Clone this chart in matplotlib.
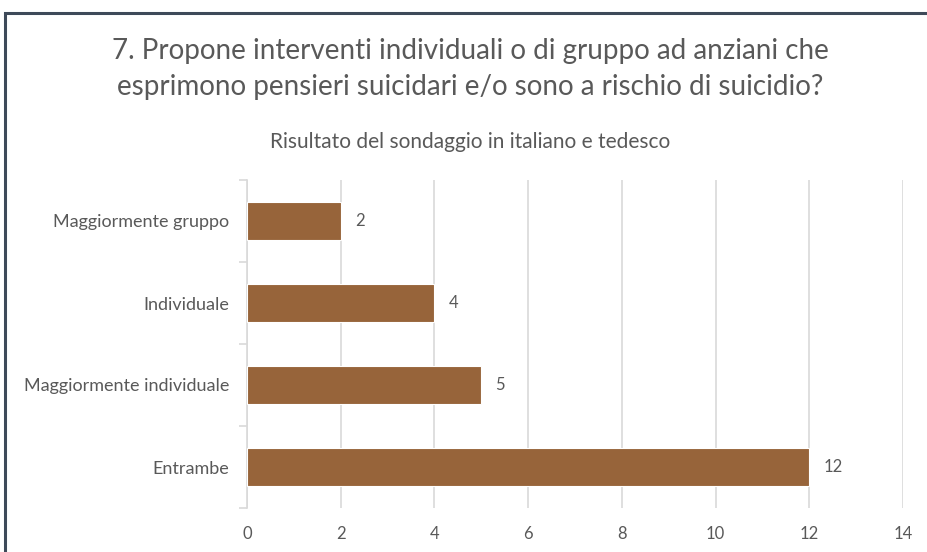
import matplotlib
matplotlib.use("Agg")
import matplotlib.pyplot as plt
from matplotlib.patches import Rectangle
from matplotlib.ticker import FixedLocator

categories = ["Maggiormente gruppo", "Individuale", "Maggiormente individuale", "Entrambe"]
values = [2, 4, 5, 12]
x_ticks = [0, 2, 4, 6, 8, 10, 12, 14]

title = "7. Propone interventi individuali o di gruppo ad anziani che\nesprimono pensieri suicidari e/o sono a rischio di suicidio?"
subtitle = "Risultato del sondaggio in italiano e tedesco"

plt.rcParams["font.family"] = ["Lato", "DejaVu Sans"]

bar_color = "#97643A"
text_color = "#595959"
grid_color = "#D9D9D9"

fig = plt.figure(figsize=(9.27, 5.52), dpi=100)
fig.patch.set_facecolor("white")

# outer chart frame (runs off the right and bottom edges)
fig.add_artist(Rectangle((5 / 927, -0.05), 1.2, 1 - 13 / 552 + 0.05,
                         transform=fig.transFigure, fill=False,
                         edgecolor="#3E4A59", linewidth=2.2, zorder=0))

ax = fig.add_axes([247 / 927, 1 - 508 / 552, (903 - 247) / 927, (508 - 180) / 552])

y = list(range(len(categories)))
ax.barh(y, values, height=0.46, color=bar_color, edgecolor="white",
        linewidth=0.8, zorder=3)
for yi, v in zip(y, values):
    ax.text(v + 0.3, yi, str(v), va="center", ha="left",
            fontsize=12, color=text_color)

ax.set_xlim(0, 14)
ax.set_ylim(len(categories) - 0.5, -0.5)
ax.set_xticks(x_ticks)
ax.set_xticklabels([str(t) for t in x_ticks])
ax.set_yticks(y)
ax.set_yticklabels(categories)
ax.yaxis.set_minor_locator(FixedLocator([i - 0.5 for i in range(len(categories) + 1)]))

ax.tick_params(axis="x", length=0, pad=13, labelsize=12, labelcolor=text_color)
ax.tick_params(axis="y", which="major", length=0, pad=13, labelsize=13, labelcolor=text_color)
ax.tick_params(axis="y", which="minor", length=6, width=1.2, color=grid_color)

ax.grid(axis="x", color=grid_color, linewidth=1.2, zorder=0)
ax.set_axisbelow(True)
for side in ["top", "right", "bottom"]:
    ax.spines[side].set_visible(False)
ax.spines["left"].set_color(grid_color)
ax.spines["left"].set_linewidth(1.2)

fig.text(470 / 927, 1 - 69 / 552, title, ha="center", va="center",
         fontsize=20, color=text_color, linespacing=1.5)
fig.text(470 / 927, 1 - 142 / 552, subtitle, ha="center", va="center",
         fontsize=15, color=text_color)

fig.savefig("out.png", dpi=100, facecolor="white")
